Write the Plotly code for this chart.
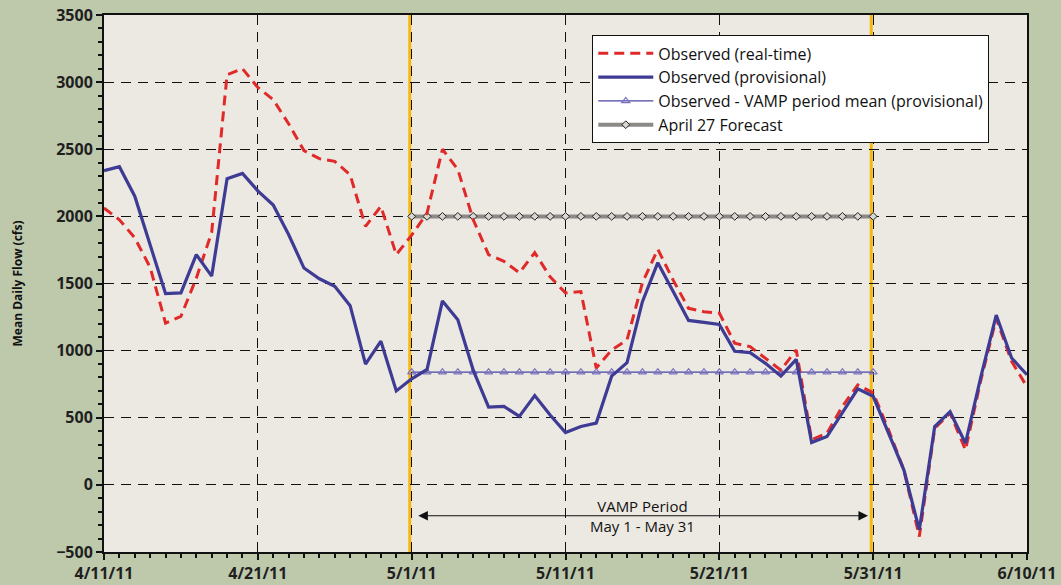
import pandas as pd
import plotly.graph_objects as go

dates = pd.date_range("2011-04-11", periods=61, freq="D")

observed_realtime = [2062, 1975, 1840, 1620, 1205, 1255, 1540, 1880, 3055, 3100,
                     2960, 2870, 2690, 2490, 2430, 2410, 2310, 1925, 2075, 1715,
                     1860, 2025, 2500, 2350, 1975, 1715, 1665, 1580, 1730, 1550,
                     1430, 1440, 870, 1005, 1080, 1505, 1755, 1525, 1315, 1290,
                     1280, 1055, 1030, 945, 855, 1005, 335, 385, 585, 745,
                     685, 410, 110, -385, 420, 535, 260, 780, 1240, 920, 730]

observed_provisional = [2340, 2370, 2150, 1780, 1425, 1430, 1715, 1555, 2280, 2320,
                        2190, 2085, 1865, 1615, 1535, 1480, 1335, 900, 1070, 700,
                        790, 860, 1370, 1230, 855, 580, 585, 510, 665, 520,
                        390, 435, 460, 810, 910, 1365, 1655, 1440, 1225, 1210,
                        1195, 995, 985, 905, 810, 935, 315, 360, 535, 715,
                        660, 385, 110, -335, 435, 545, 310, 805, 1265, 945, 820]

vamp_dates = pd.date_range("2011-05-01", "2011-05-31", freq="D")
vamp_mean_value = 840
forecast_value = 2000
vamp_mean = [vamp_mean_value] * len(vamp_dates)
forecast = [forecast_value] * len(vamp_dates)

tick_dates = pd.date_range("2011-04-11", periods=7, freq="10D")
tick_labels = ["4/11/11", "4/21/11", "5/1/11", "5/11/11", "5/21/11", "5/31/11", "6/10/11"]

FONT = "Open Sans"

fig = go.Figure()

fig.add_trace(go.Scatter(
    x=vamp_dates, y=forecast, name="April 27 Forecast", mode="lines+markers",
    line=dict(color="#8c8a86", width=4),
    marker=dict(symbol="diamond", size=6, color="#d8d6d0",
                line=dict(color="#222222", width=1)),
    legendrank=4, legendgroup="d"))

fig.add_trace(go.Scatter(
    x=vamp_dates, y=vamp_mean, name="Observed - VAMP period mean (provisional)",
    mode="lines+markers",
    line=dict(color="#4a45a0", width=1.2),
    marker=dict(symbol="triangle-up-open", size=7, color="#7a72c0",
                line=dict(width=1.2)),
    legendrank=3, legendgroup="c"))

fig.add_trace(go.Scatter(
    x=dates, y=observed_realtime, name="Observed (real-time)", mode="lines",
    line=dict(color="#e02a2a", width=3, dash="10px,6px"),
    legendrank=1, legendgroup="a"))

fig.add_trace(go.Scatter(
    x=dates, y=observed_provisional, name="Observed (provisional)", mode="lines",
    line=dict(color="#3e3b95", width=3.2),
    legendrank=2, legendgroup="b"))

# VAMP period boundary lines (gold)
for d in ["2011-05-01", "2011-05-31"]:
    xd = pd.Timestamp(d) - pd.Timedelta(hours=3)
    fig.add_shape(type="line", xref="x", yref="paper", x0=xd, x1=xd, y0=0, y1=1,
                  line=dict(color="#f6b80d", width=3), layer="between")

# VAMP period arrow
fig.add_annotation(x=pd.Timestamp("2011-05-31") - pd.Timedelta(hours=8), y=-230,
                   ax=pd.Timestamp("2011-05-01") + pd.Timedelta(hours=8), ay=-230,
                   xref="x", yref="y", axref="x", ayref="y",
                   text="", showarrow=True, arrowhead=2, startarrowhead=2,
                   arrowside="end+start", arrowsize=1.6, arrowwidth=1.2,
                   arrowcolor="#111111")
fig.add_annotation(x=pd.Timestamp("2011-05-16"), y=-230, xref="x", yref="y",
                   text="VAMP Period<br>May 1 - May 31", showarrow=False,
                   font=dict(family=FONT, size=15, color="#111111"),
                   yanchor="middle")

fig.update_layout(
    width=1061, height=585,
    margin=dict(l=104, r=34, t=15, b=33, autoexpand=False),
    paper_bgcolor="#bec8ab",
    plot_bgcolor="#ece9e2",
    font=dict(family=FONT, color="#1a1a1a"),
    showlegend=True,
    legend=dict(x=0.529, y=0.962, xanchor="left", yanchor="top",
                bgcolor="#ffffff", bordercolor="#111111", borderwidth=1,
                font=dict(family=FONT, size=16, color="#111111"),
                itemwidth=55,
                tracegroupgap=6, traceorder="normal"),
)

fig.update_xaxes(
    range=[dates[0], dates[-1]], automargin=False,
    tickvals=tick_dates, ticktext=tick_labels,
    showline=True, linecolor="#111111", linewidth=2, mirror=True,
    ticks="outside", ticklen=6, tickcolor="#111111", tickwidth=1.5,
    tickfont=dict(family=FONT, size=16, color="#1f1f1f", weight="bold"),
    showgrid=True, gridcolor="#111111", gridwidth=1.4, griddash="10px,7px",
    minor=dict(ticks="outside", ticklen=4, tickcolor="#111111",
               dtick=86400000, tick0=dates[0], showgrid=False),
    zeroline=False,
)

fig.update_yaxes(
    range=[-500, 3500], dtick=500, tick0=0, automargin=False,
    showline=True, linecolor="#111111", linewidth=2, mirror=True,
    ticks="outside", ticklen=6, tickcolor="#111111", tickwidth=1.5,
    tickfont=dict(family=FONT, size=16, color="#1f1f1f", weight="bold"),
    showgrid=True, gridcolor="#111111", gridwidth=1.4, griddash="10px,7px",
    minor=dict(ticks="outside", ticklen=4, tickcolor="#111111", dtick=100,
               showgrid=False),
    zeroline=False,
    title=dict(text="Mean Daily Flow (cfs)", standoff=31,
               font=dict(family=FONT, size=12, color="#111111", weight="bold")),
)

fig.write_html("out.html",
               config={"displayModeBar": False},
               post_script="document.body.style.margin='0px';"
                           "document.body.style.background='#bec8ab';")
